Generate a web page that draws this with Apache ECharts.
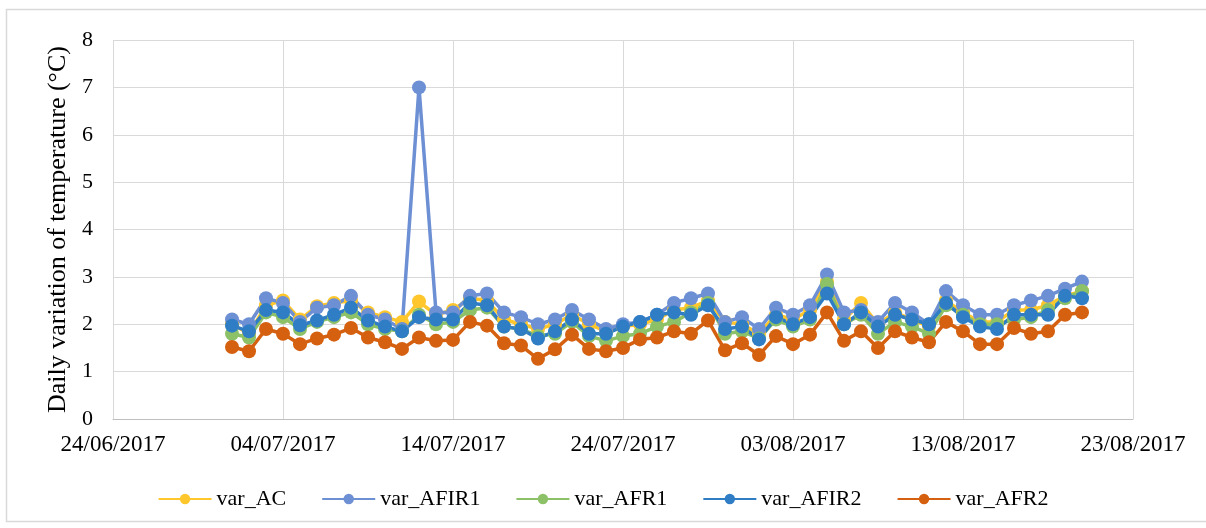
<!DOCTYPE html>
<html><head><meta charset="utf-8">
<script src="https://cdn.jsdelivr.net/npm/echarts@6/dist/echarts.min.js"></script>
<style>html,body{margin:0;padding:0;background:#fff}#c{width:1206px;height:528px}</style>
</head><body><div id="c"></div>
<script>
const startDate = '01/07/2017';
const seriesNames = ['var_AC','var_AFIR1','var_AFR1','var_AFIR2','var_AFR2'];
const var_AC = [2.0,1.8,2.4,2.5,2.1,2.38,2.45,2.5,2.25,2.15,2.05,2.48,2.2,2.3,2.55,2.5,2.1,2.0,1.9,2.0,2.2,2.0,1.85,1.95,2.0,2.1,2.3,2.35,2.5,2.05,2.0,1.8,2.2,2.1,2.3,2.9,2.1,2.45,2.0,2.25,2.1,1.95,2.5,2.25,2.05,2.05,2.3,2.3,2.4,2.6,2.7];
const var_AFIR1 = [2.1,2.0,2.55,2.45,2.05,2.35,2.4,2.6,2.2,2.1,1.9,7.0,2.25,2.25,2.6,2.65,2.25,2.15,2.0,2.1,2.3,2.1,1.9,2.0,2.05,2.2,2.45,2.55,2.65,2.05,2.15,1.9,2.35,2.2,2.4,3.05,2.25,2.3,2.05,2.45,2.25,2.0,2.7,2.4,2.2,2.2,2.4,2.5,2.6,2.75,2.9];
const var_AFR1 = [1.8,1.72,2.25,2.15,1.9,2.05,2.15,2.25,2.0,1.9,1.85,2.2,2.0,2.05,2.3,2.35,1.95,1.9,1.75,1.8,2.05,1.75,1.65,1.75,1.8,1.95,2.05,2.25,2.45,1.8,1.85,1.7,2.1,1.95,2.1,2.85,2.0,2.2,1.8,2.05,1.95,1.8,2.4,2.2,2.0,2.0,2.1,2.15,2.3,2.55,2.7];
const var_AFIR2 = [1.97,1.85,2.3,2.25,1.98,2.08,2.2,2.35,2.08,1.95,1.85,2.15,2.1,2.1,2.45,2.4,1.95,1.9,1.7,1.85,2.1,1.8,1.8,1.95,2.05,2.2,2.25,2.2,2.4,1.9,1.95,1.68,2.15,2.0,2.15,2.65,2.0,2.25,1.95,2.2,2.1,2.0,2.45,2.15,1.95,1.9,2.2,2.2,2.2,2.6,2.55];
const var_AFR2 = [1.52,1.43,1.9,1.8,1.58,1.7,1.78,1.92,1.72,1.62,1.48,1.72,1.65,1.67,2.05,1.97,1.6,1.55,1.27,1.47,1.78,1.48,1.43,1.5,1.68,1.72,1.85,1.8,2.08,1.45,1.6,1.35,1.75,1.58,1.78,2.25,1.65,1.85,1.5,1.85,1.72,1.62,2.05,1.85,1.58,1.58,1.92,1.8,1.85,2.2,2.25];
const xTickMin = '24/06/2017', xTickMax = '23/08/2017';
const colors = ['#FFC72C','#6D8FD4','#8CC168','#2E7DC5','#D46010'];

function toSerial(s){const [d,m,y]=s.split('/').map(Number);return Date.UTC(y,m-1,d)/86400000+25569;}
function fromSerial(n){const dt=new Date((n-25569)*86400000);const p=v=>String(v).padStart(2,'0');return p(dt.getUTCDate())+'/'+p(dt.getUTCMonth()+1)+'/'+dt.getUTCFullYear();}
const s0 = toSerial(startDate);
const allData = [var_AC,var_AFIR1,var_AFR1,var_AFIR2,var_AFR2];
const font = 'Liberation Serif';
const chart = echarts.init(document.getElementById('c'));
chart.setOption({
  animation:false,
  graphic:[{type:'rect',shape:{x:6.5,y:9.5,width:1220,height:512},style:{fill:'none',stroke:'#D9D9D9',lineWidth:1.5},silent:true}],
  grid:{left:113,right:73,top:40,bottom:109},
  legend:{top:483,left:'center',itemGap:35,itemWidth:53,itemHeight:13,textStyle:{fontFamily:font,fontSize:22,color:'#000'},data:seriesNames},
  xAxis:{type:'value',min:toSerial(xTickMin),max:toSerial(xTickMax),interval:10,
    axisLine:{lineStyle:{color:'#BFBFBF'}},axisTick:{show:false},
    splitLine:{show:true,lineStyle:{color:'#D9D9D9',width:1}},
    axisLabel:{formatter:v=>fromSerial(v),fontFamily:font,fontSize:23,color:'#000',margin:14}},
  yAxis:{type:'value',min:0,max:8,interval:1,
    name:'Daily variation of temperature (°C)',nameLocation:'middle',nameGap:40,
    nameTextStyle:{fontFamily:font,fontSize:26,color:'#000'},
    axisLine:{show:false},axisTick:{show:false},
    splitLine:{lineStyle:{color:'#D9D9D9',width:1}},
    axisLabel:{fontFamily:font,fontSize:22,color:'#000',margin:20}},
  series:seriesNames.map((n,k)=>({name:n,type:'line',symbol:'circle',symbolSize:14,
    itemStyle:{color:colors[k]},lineStyle:{color:colors[k],width:3.5},
    data:allData[k].map((v,i)=>[s0+i,v])}))
});
</script></body></html>
